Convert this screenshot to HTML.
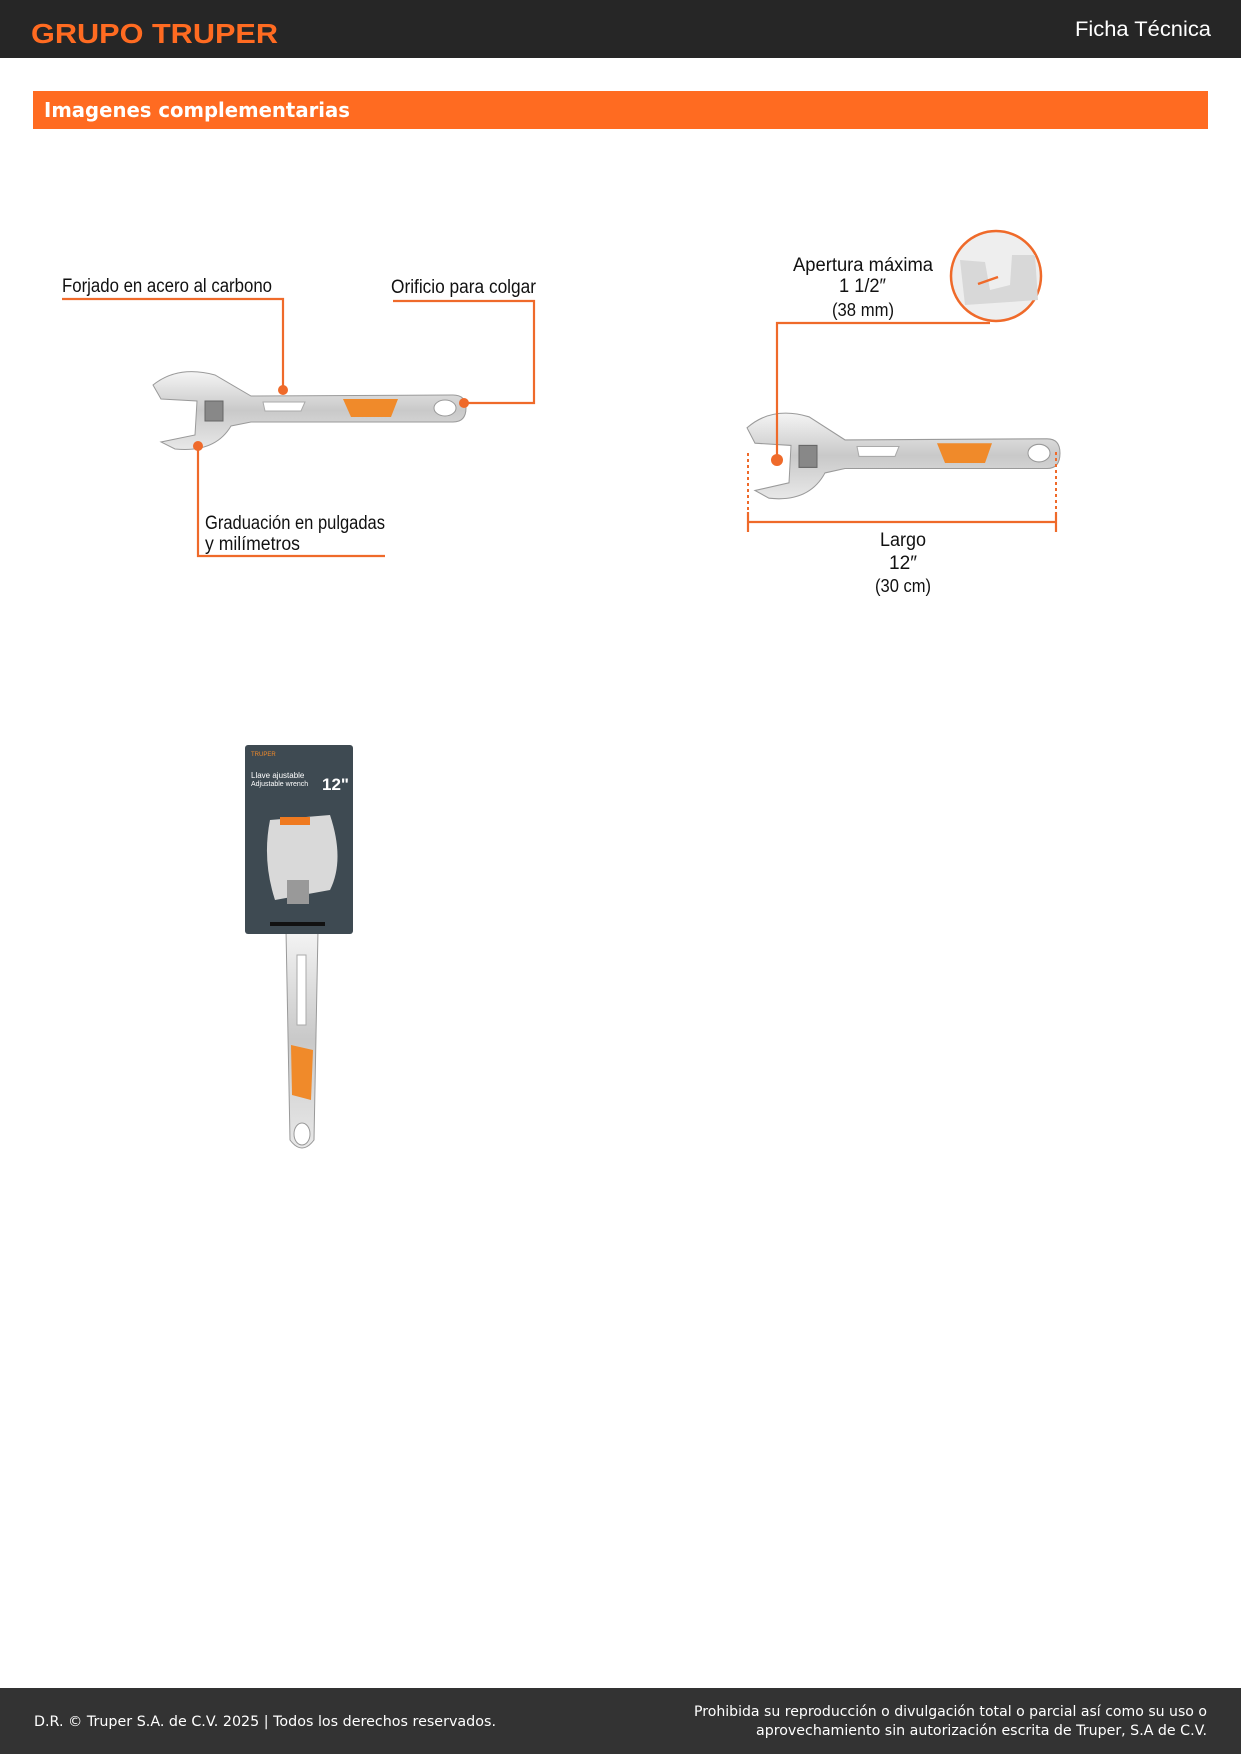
<!DOCTYPE html>
<html><head><meta charset="utf-8"><style>
body{margin:0;width:1241px;height:1754px;position:relative;background:#fff;font-family:"Liberation Sans",sans-serif;overflow:hidden}
.lab{font-family:"Liberation Sans",sans-serif;font-size:19px;fill:#111}
</style></head><body>
<svg width="1241" height="1754" style="position:absolute;left:0;top:0">
<defs>
<linearGradient id="m" x1="0" y1="0" x2="0" y2="1"><stop offset="0" stop-color="#f4f4f4"/><stop offset=".5" stop-color="#c9c9c9"/><stop offset="1" stop-color="#e8e8e8"/></linearGradient>
<g id="w">
<path d="M0,-22 Q25,-42 62,-32 L98,-11 L300,-12 Q313,-12 313,1 Q313,15 300,15 L98,15 L78,19 Q62,46 22,42 L8,35 L42,28 L44,-6 L8,-8 Z" fill="url(#m)" stroke="#9a9a9a" stroke-width="1"/>
<rect x="52" y="-6" width="18" height="20" fill="#888" stroke="#666"/>
<path d="M110,-5 L152,-5 L148,4 L112,4 Z" fill="#fff" stroke="#aaa"/>
<path d="M190,-8 L245,-8 L238,10 L198,10 Z" fill="#f08a2a"/>
<ellipse cx="292" cy="1" rx="11" ry="8" fill="#fff" stroke="#999"/>
</g>
</defs>
<rect x="0" y="0" width="1241" height="58" fill="#262626"/>
<text x="31" y="43" font-size="28" font-weight="bold" fill="#ff6b21" textLength="247" lengthAdjust="spacingAndGlyphs">GRUPO TRUPER</text>
<text x="1075" y="36" font-size="21" fill="#fff" textLength="136" lengthAdjust="spacingAndGlyphs">Ficha Técnica</text>
<rect x="33" y="91" width="1175" height="38" fill="#ff6b21"/>
<text x="44" y="117" font-size="20" font-weight="bold" fill="#fff" font-family="DejaVu Sans" textLength="306" lengthAdjust="spacingAndGlyphs">Imagenes complementarias</text>

<use href="#w" x="153" y="407"/>
<g transform="translate(747,452) scale(1,1.1)"><use href="#w"/></g>
<g stroke="#ef6a2a" stroke-width="2.2" fill="none">
<polyline points="62,299 283,299 283,390"/>
<polyline points="393,301 534,301 534,403 466,403"/>
<polyline points="198,446 198,556 385,556"/>
<polyline points="777,458 777,323 990,323"/>
<line x1="748" y1="522" x2="1056" y2="522"/>
<line x1="748" y1="512" x2="748" y2="532"/><line x1="1056" y1="512" x2="1056" y2="532"/>
</g>
<g stroke="#ef6a2a" stroke-width="2" stroke-dasharray="3,3"><line x1="748" y1="453" x2="748" y2="512"/><line x1="1056" y1="452" x2="1056" y2="512"/></g>
<g fill="#ef6a2a"><circle cx="283" cy="390" r="5"/><circle cx="464" cy="403" r="5"/><circle cx="198" cy="446" r="5"/><circle cx="777" cy="460" r="6"/></g>
<circle cx="996" cy="276" r="45" fill="#eee" stroke="#ef6a2a" stroke-width="2.5"/>
<path d="M960,260 L985,262 L990,290 L1010,285 L1012,255 L1035,255 L1038,300 L965,305 Z" fill="#d8d8d8"/>
<line x1="978" y1="284" x2="998" y2="277" stroke="#ef6a2a" stroke-width="2.5"/>
<g class="lab">
<text x="62" y="292" textLength="210" lengthAdjust="spacingAndGlyphs">Forjado en acero al carbono</text>
<text x="391" y="293" textLength="145" lengthAdjust="spacingAndGlyphs">Orificio para colgar</text>
<text x="205" y="529" textLength="180" lengthAdjust="spacingAndGlyphs">Graduación en pulgadas</text>
<text x="205" y="550" textLength="95" lengthAdjust="spacingAndGlyphs">y milímetros</text>
<text x="793" y="271" textLength="140" lengthAdjust="spacingAndGlyphs">Apertura máxima</text>
<text x="839" y="292" textLength="47" lengthAdjust="spacingAndGlyphs">1 1/2″</text>
<text x="832" y="316" font-size="18" textLength="62" lengthAdjust="spacingAndGlyphs">(38 mm)</text>
<text x="880" y="546" textLength="46" lengthAdjust="spacingAndGlyphs">Largo</text>
<text x="889" y="569" textLength="28" lengthAdjust="spacingAndGlyphs">12″</text>
<text x="875" y="592" font-size="18" textLength="56" lengthAdjust="spacingAndGlyphs">(30 cm)</text>
</g>
<!-- package -->
<path d="M286,930 L318,930 L314,1140 Q302,1156 290,1140 Z" fill="url(#m)" stroke="#999"/>
<rect x="297" y="955" width="9" height="70" fill="#fff" stroke="#aaa"/>
<path d="M291,1045 L313,1050 L311,1100 L292,1095 Z" fill="#f08a2a"/>
<ellipse cx="302" cy="1134" rx="8" ry="11" fill="#fff" stroke="#999"/>
<rect x="245" y="745" width="108" height="189" rx="3" fill="#3e4a52"/>
<path d="M270,820 L330,815 Q345,860 330,890 L275,900 Q262,860 270,820 Z" fill="#d9d9d9"/>
<rect x="280" y="817" width="30" height="8" fill="#ef7a20"/>
<rect x="287" y="880" width="22" height="24" fill="#999"/>
<rect x="270" y="922" width="55" height="4" fill="#111"/>
<g fill="#fff" font-family="Liberation Sans,sans-serif"><text x="251" y="756" font-size="6" fill="#f08a2a">TRUPER</text><text x="251" y="778" font-size="8">Llave ajustable</text><text x="251" y="786" font-size="7">Adjustable wrench</text><text x="322" y="790" font-size="17" font-weight="bold">12"</text></g>

<rect x="0" y="1688" width="1241" height="66" fill="#333"/>
<g fill="#fff" font-family="DejaVu Sans" font-size="14.5">
<text x="34" y="1726" textLength="462" lengthAdjust="spacingAndGlyphs">D.R. © Truper S.A. de C.V. 2025 | Todos los derechos reservados.</text>
<text x="694" y="1716" textLength="513" lengthAdjust="spacingAndGlyphs">Prohibida su reproducción o divulgación total o parcial así como su uso o</text>
<text x="756" y="1735" textLength="451" lengthAdjust="spacingAndGlyphs">aprovechamiento sin autorización escrita de Truper, S.A de C.V.</text>
</g>
</svg>
</body></html>
